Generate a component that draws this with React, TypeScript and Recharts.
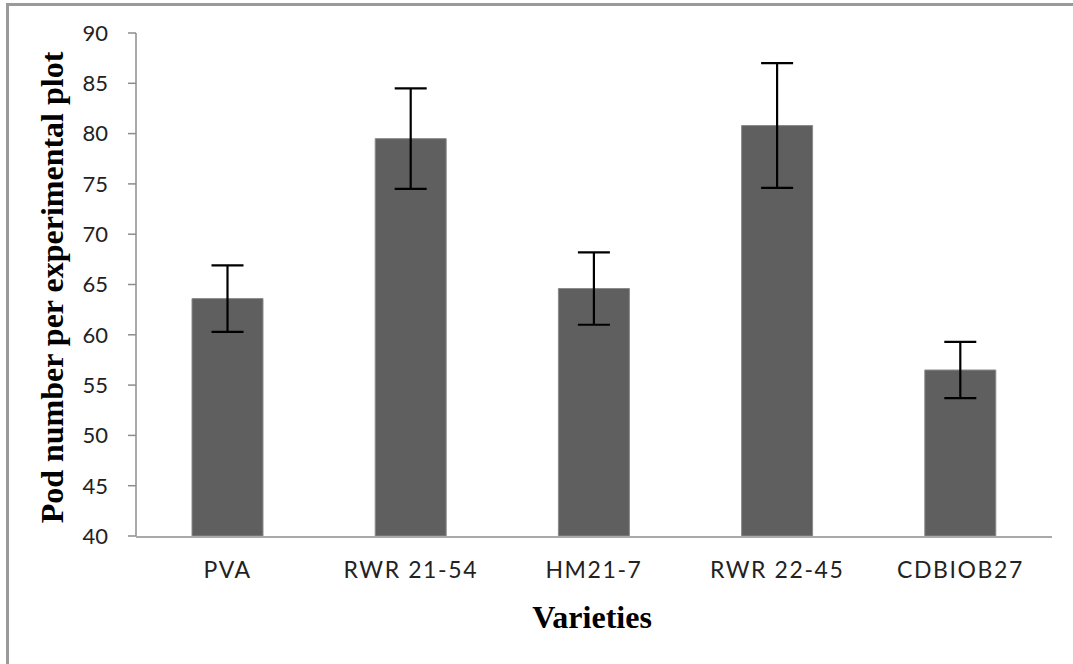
import React from 'react';
import { BarChart, Bar, XAxis, YAxis, ErrorBar, Label } from 'recharts';

const categories = ['PVA', 'RWR 21-54', 'HM21-7', 'RWR 22-45', 'CDBIOB27'];
const podNumbers = [63.6, 79.5, 64.6, 80.8, 56.5];
const errors = [3.3, 5.0, 3.6, 6.2, 2.8];
const yTicks = [40, 45, 50, 55, 60, 65, 70, 75, 80, 85, 90];
const boundaryTicks = [0, 1, 2, 3, 4, 5];

const data = categories.map((c, i) => ({ name: c, value: podNumbers[i], err: errors[i] }));

const axisColor = '#8c8c8c';
const yTickFont = { fontFamily: 'Lato', fontSize: 22, fill: '#222' };
const xTickFont = { fontFamily: 'Lato', fontSize: 23, fill: '#222', letterSpacing: 1.6 };
const titleFont = "'Liberation Serif', 'Times New Roman', serif";

const YTitle = (props: any) => {
  const vb = props.viewBox || {};
  const cx = vb.x + 52;
  const cy = vb.y + vb.height / 2 + 3;
  return (
    <text
      x={cx}
      y={cy}
      transform={`rotate(-90, ${cx}, ${cy})`}
      textAnchor="middle"
      dominantBaseline="central"
      style={{ fontFamily: titleFont, fontWeight: 'bold', fontSize: 32, fill: '#000' }}
    >
      Pod number per experimental plot
    </text>
  );
};

const XTitle = (props: any) => {
  const vb = props.viewBox || {};
  const cx = vb.x + vb.width / 2 - 2;
  const cy = vb.y + 80;
  return (
    <text
      x={cx}
      y={cy}
      textAnchor="middle"
      dominantBaseline="central"
      style={{ fontFamily: titleFont, fontWeight: 'bold', fontSize: 32, fill: '#000' }}
    >
      Varieties
    </text>
  );
};

export default function App() {
  return (
    <div style={{ position: 'absolute', left: 0, top: 0, width: 1073, height: 664, background: '#fff', overflow: 'hidden' }}>
      <div
        style={{
          position: 'absolute',
          left: 6,
          top: 3,
          width: 1200,
          height: 800,
          borderTop: '3px solid #9a9a9a',
          borderLeft: '3px solid #9a9a9a',
        }}
      />
      <div style={{ position: 'absolute', left: 0, top: 0 }}>
        <BarChart
          width={1073}
          height={664}
          data={data}
          margin={{ top: 33, right: 21, bottom: 126, left: 0 }}
        >
          <XAxis
            xAxisId="cat"
            dataKey="name"
            height={1}
            tickLine={false}
            tickSize={0}
            tickMargin={25}
            axisLine={{ stroke: axisColor, strokeWidth: 1.5 }}
            tick={xTickFont}
            interval={0}
          >
            <Label content={<XTitle />} />
          </XAxis>
          <XAxis
            xAxisId="bounds"
            type="number"
            domain={[0, 5]}
            ticks={boundaryTicks}
            height={1}
            axisLine={false}
            tick={false}
            tickSize={8}
            tickLine={{ stroke: axisColor, strokeWidth: 1.5 }}
            allowDataOverflow
          />
          <YAxis
            width={136}
            domain={[40, 90]}
            ticks={yTicks}
            allowDataOverflow
            tickSize={8}
            tickMargin={20}
            axisLine={{ stroke: axisColor, strokeWidth: 1.5 }}
            tickLine={{ stroke: axisColor, strokeWidth: 1.5 }}
            tick={yTickFont}
          >
            <Label content={<YTitle />} />
          </YAxis>
          <Bar
            xAxisId="cat"
            dataKey="value"
            fill="#5f5f5f"
            stroke="#8a8a8a"
            strokeWidth={1}
            barSize={71}
            isAnimationActive={false}
          >
            <ErrorBar dataKey="err" width={16} stroke="#000" strokeWidth={2.2} direction="y" />
          </Bar>
        </BarChart>
      </div>
    </div>
  );
}
